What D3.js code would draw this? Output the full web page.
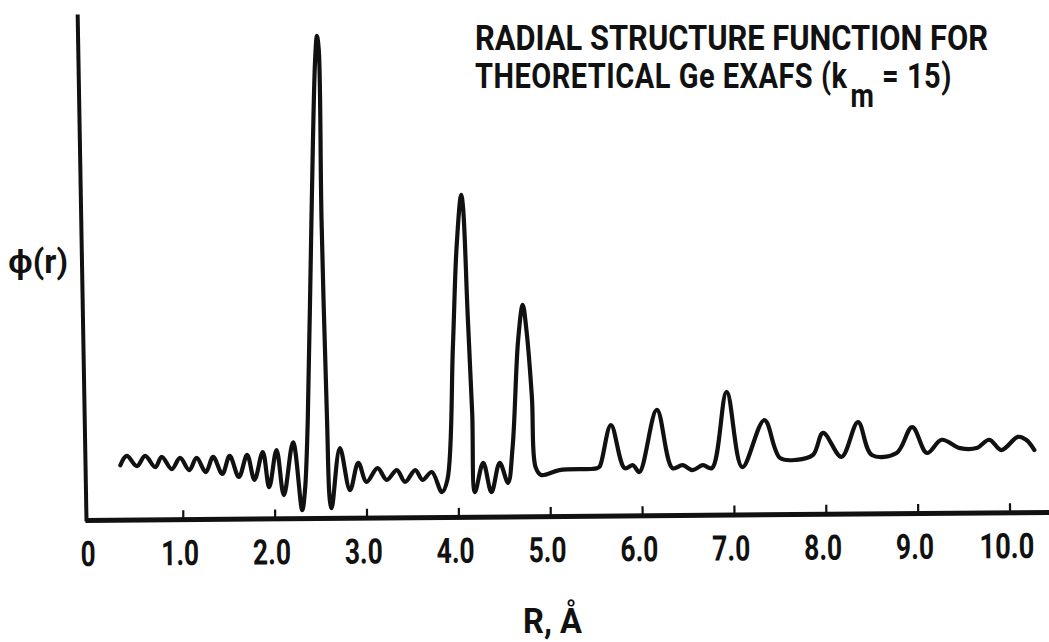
<!DOCTYPE html>
<html>
<head>
<meta charset="utf-8">
<script src="https://cdn.jsdelivr.net/npm/d3@7"></script>
<style>
  html, body { margin: 0; padding: 0; background: #fff; }
  svg { display: block; }
  .lbl { font-family: Roboto, "Liberation Sans", "DejaVu Sans", sans-serif; font-weight: bold; fill: #111; }
</style>
</head>
<body>
<svg id="chart" width="1049" height="642"></svg>
<script>
// ---- data ----
const rValues = [0.32,0.39,0.50,0.59,0.70,0.77,0.88,0.97,1.07,1.15,1.25,1.33,1.43,1.51,1.61,1.70,1.78,1.87,1.94,2.02,2.10,2.20,2.30,
  2.33,2.36,2.40,2.44,2.46,2.48,2.51,2.57,2.60,2.62,
  2.71,2.82,2.91,3.00,3.12,3.22,3.33,3.42,3.53,3.61,3.71,3.82,
  3.88,3.94,3.98,4.03,4.05,4.10,4.15,4.18,4.27,4.36,4.45,4.54,
  4.59,4.65,4.70,4.74,4.80,4.84,4.90,5.10,5.51,5.54,5.66,5.81,5.90,5.97,6.16,6.33,6.44,6.55,6.66,6.76,6.92,7.09,7.33,7.50,
  7.68,7.86,7.97,8.17,8.35,8.50,8.77,8.94,9.10,9.26,9.46,9.64,9.78,9.91,10.09,10.18,10.27];
const phiValues = [11.0,12.9,10.8,12.9,10.6,12.7,10.2,12.5,10.0,12.5,9.6,12.7,9.2,12.9,8.6,13.1,8.0,13.7,6.5,14.1,4.9,15.7,1.8,
  5.9,20.2,61.1,93.9,98.8,95.9,61.1,20.2,3.9,2.2,
  14.5,5.9,11.5,7.6,10.4,8.0,10.0,7.6,10.0,8.0,9.6,5.5,
  8.0,35.2,55.6,66.3,63.8,42.1,21.7,5.5,11.5,5.5,11.5,7.4,
  14.7,36.6,43.8,38.7,24.9,10.6,9.0,10.0,10.4,10.8,19.2,10.4,11.0,9.6,22.3,10.4,11.0,10.0,11.0,10.4,26.0,10.6,20.2,12.5,
  12.1,13.1,17.6,12.7,19.8,13.1,13.5,18.8,13.5,16.2,14.5,14.5,16.2,14.1,16.8,16.2,14.1];
const tickValues = [0,1,2,3,4,5,6,7,8,9,10];
const tickLabels = ["0","1.0","2.0","3.0","4.0","5.0","6.0","7.0","8.0","9.0","10.0"];
const titleLines = ["RADIAL STRUCTURE FUNCTION FOR", "THEORETICAL Ge EXAFS (k", "m", " = 15)"];
const yLabel = "\u03D5(r)";
const xLabel = "R, \u00C5";

// ---- scales ----
const svg = d3.select("#chart");
const x = d3.scaleLinear().domain([-0.065, 10.44]).range([85, 1050]);
const y = d3.scaleLinear().domain([0, 100]).range([519, 30]);

// x axis (slightly tilted like the scan)
const xAxis = d3.axisBottom(x)
  .tickValues(tickValues)
  .tickFormat((d, i) => tickLabels[i])
  .tickSizeInner(-9)
  .tickSizeOuter(0)
  .tickPadding(21);
const gx = svg.append("g")
  .attr("transform", "translate(0,520) rotate(-0.48,85,0)")
  .call(xAxis);
gx.select(".domain").attr("stroke", "#111").attr("stroke-width", 5);
gx.selectAll(".tick line").attr("stroke", "#111").attr("stroke-width", 2.2);
gx.selectAll(".tick").filter(d => d === 0).select("line").remove();
gx.selectAll(".tick text")
  .attr("class", "lbl")
  .attr("font-size", 35)
  .attr("dx", "-0.1em")
  .attr("textLength", (d, i) => tickLabels[i].length === 1 ? 15 : (tickLabels[i].length === 3 ? 38 : 55))
  .attr("lengthAdjust", "spacingAndGlyphs");

// y axis (no ticks)
const yAxisScale = d3.scaleLinear().domain([0, 1]).range([521, 14]);
const gy = svg.append("g")
  .attr("transform", "translate(86,0) rotate(-1.0,0,521)")
  .call(d3.axisLeft(yAxisScale).tickValues([]).tickSizeOuter(0));
gy.select(".domain").attr("stroke", "#111").attr("stroke-width", 4);

// curve
const pts = rValues.map((r, i) => [r, phiValues[i]]);
const line = d3.line()
  .x(d => x(d[0]))
  .y(d => y(d[1]))
  .curve(d3.curveCatmullRom.alpha(0.5));
svg.append("path")
  .datum(pts)
  .attr("d", line)
  .attr("fill", "none")
  .attr("stroke", "#111")
  .attr("stroke-width", 4.2)
  .attr("stroke-linejoin", "round")
  .attr("stroke-linecap", "round");

// title (tall, condensed lettering)
svg.append("text").attr("class", "lbl")
  .attr("transform", "translate(475,50) scale(1,1.2)")
  .attr("font-size", 29).attr("textLength", 513).attr("lengthAdjust", "spacingAndGlyphs")
  .text(titleLines[0]);
const t2 = svg.append("text").attr("class", "lbl")
  .attr("transform", "translate(475,88) scale(1,1.2)")
  .attr("font-size", 29)
  .attr("letter-spacing", 0.5);
t2.append("tspan").text(titleLines[1]);
t2.append("tspan").attr("dx", 3).attr("dy", 16).attr("font-size", 27).text(titleLines[2]);
t2.append("tspan").attr("dy", -16).text(titleLines[3]);

// y label
svg.append("text").attr("class", "lbl").attr("x", 8).attr("y", 273)
  .attr("font-size", 33).attr("textLength", 60).attr("lengthAdjust", "spacingAndGlyphs")
  .text(yLabel);

// x label
svg.append("text").attr("class", "lbl").attr("x", 523).attr("y", 633)
  .attr("font-size", 35).attr("textLength", 59).attr("lengthAdjust", "spacingAndGlyphs")
  .text(xLabel);
</script>
</body>
</html>
